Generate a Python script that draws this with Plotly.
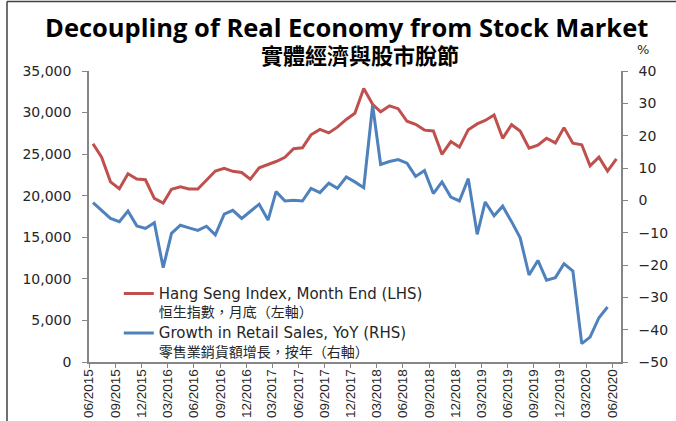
import pandas as pd
import plotly.graph_objects as go

# ---- data ----
months = pd.date_range("2015-06-01", periods=61, freq="MS") + pd.Timedelta(days=14)

hsi_month_end = [26250, 24636, 21670, 20846, 22640, 21996, 21914,
                 19683, 19112, 20777, 21067, 20815, 20794, 21891, 22977, 23297, 22935, 22790, 22001,
                 23361, 23741, 24112, 24615, 25661, 25765, 27324, 27970, 27554, 28246, 29177, 29919,
                 32887, 31000, 30093, 30808, 30469, 28955, 28583, 27889, 27789, 24980, 26507, 25846,
                 27942, 28633, 29051, 29699, 26901, 28543, 27778, 25725, 26092, 26907, 26346, 28190,
                 26313, 26130, 23603, 24644, 22961, 24427]

retail_yoy = [-0.7, -3.1, -5.6, -6.6, -3.3, -7.9, -8.7,
              -6.9, -20.8, -10.2, -7.7, -8.5, -9.3, -8.0, -10.7, -4.3, -3.1, -5.6, -3.3,
              -1.2, -6.1, 2.7, -0.2, 0.0, -0.2, 3.7, 2.4, 5.3, 3.7, 7.2, 5.7,
              3.9, 29.4, 11.1, 12.0, 12.6, 11.5, 7.4, 9.2, 2.1, 5.7, 1.0, -0.2,
              6.7, -10.5, -0.5, -4.8, -1.8, -6.6, -11.6, -23.1, -18.6, -24.7, -23.9, -19.6,
              -21.9, -44.3, -42.3, -36.3, -33.0]

tick_labels = ["06/2015", "09/2015", "12/2015", "03/2016", "06/2016", "09/2016", "12/2016",
               "03/2017", "06/2017", "09/2017", "12/2017", "03/2018", "06/2018", "09/2018",
               "12/2018", "03/2019", "06/2019", "09/2019", "12/2019", "03/2020", "06/2020"]
tick_vals = [pd.Timestamp(int(t[3:]), int(t[:2]), 1) for t in tick_labels]

name_hsi = ("<span style='font-size:15px'>Hang Seng Index, Month End (LHS)</span><br>"
            "<span style='font-size:14px'>恒生指數，月底（左軸）</span>")
name_retail = ("<span style='font-size:15px'>Growth in Retail Sales, YoY (RHS)</span><br>"
               "<span style='font-size:14px'>零售業銷貨額增長，按年（右軸）</span>")

RED = "#C0504D"
BLUE = "#4F81BD"
AXIS = "#868686"
TXT = "#262626"
FONT = "DejaVu Sans, Noto Sans CJK TC, sans-serif"

fig = go.Figure()
fig.add_trace(go.Scatter(x=months, y=hsi_month_end, mode="lines", name=name_hsi,
                         line=dict(color=RED, width=3), yaxis="y"))
fig.add_trace(go.Scatter(x=months[:len(retail_yoy)], y=retail_yoy, mode="lines", name=name_retail,
                         line=dict(color=BLUE, width=3), yaxis="y2"))

fig.update_layout(
    width=676, height=421,
    margin=dict(l=89, r=55, t=71, b=59, autoexpand=False),
    paper_bgcolor="white", plot_bgcolor="white",
    font=dict(family=FONT, color=TXT, size=14),
    showlegend=True,
    legend=dict(x=0.056, y=0.289, xanchor="left", yanchor="top",
                bgcolor="rgba(0,0,0,0)", valign="top",
                font=dict(size=14, color=TXT, family=FONT),
                tracegroupgap=0, itemwidth=30),
    xaxis=dict(type="date", range=["2015-06-01", "2020-07-01"], automargin=False,
               tickvals=tick_vals, ticktext=tick_labels, tickangle=-90,
               ticks="outside", ticklen=4, tickcolor=AXIS, tickwidth=1,
               showline=True, linecolor=AXIS, linewidth=1.5,
               showgrid=False, zeroline=False, ticklabelstandoff=-4,
               tickfont=dict(size=13.5, color=TXT, family="Liberation Sans, sans-serif")),
    yaxis=dict(range=[0, 35000], dtick=5000, tickformat=",", automargin=False,
               ticks="outside", ticklen=5, tickcolor=AXIS,
               showline=True, linecolor=AXIS, linewidth=1.5,
               showgrid=False, zeroline=False, ticklabelstandoff=8,
               tickfont=dict(size=14, color=TXT)),
    yaxis2=dict(range=[-50, 40], dtick=10, overlaying="y", side="right", automargin=False,
                ticks="outside", ticklen=5, tickcolor=AXIS,
                showline=True, linecolor=AXIS, linewidth=1.5,
                showgrid=False, zeroline=False, ticklabelstandoff=8,
                tickfont=dict(size=14, color=TXT)),
)

fig.add_annotation(text="<b>Decoupling of Real Economy from Stock Market</b>",
                   xref="paper", yref="paper", x=(346 - 89) / 532, y=(362 - 27) / 291,
                   xanchor="center", yanchor="middle", showarrow=False,
                   font=dict(family="Open Sans, sans-serif", size=25.5, color="black"))
fig.add_annotation(text="<b>實體經濟與股市脫節</b>",
                   xref="paper", yref="paper", x=(360 - 89) / 532, y=(362 - 54) / 291,
                   xanchor="center", yanchor="middle", showarrow=False,
                   font=dict(family="Noto Sans CJK TC, sans-serif", size=22, color="black"))
fig.add_annotation(text="%", xref="paper", yref="paper",
                   x=(643 - 89) / 532, y=(362 - 49) / 291,
                   xanchor="center", yanchor="middle", showarrow=False,
                   font=dict(size=13, color=TXT))

# chart frame (top and left edges)
fig.add_shape(type="line", xref="paper", yref="paper",
              x0=(7 - 89) / 532, x1=(680 - 89) / 532,
              y0=(362 - 1.5) / 291, y1=(362 - 1.5) / 291,
              line=dict(color="#404040", width=1.5))
fig.add_shape(type="line", xref="paper", yref="paper",
              x0=(7 - 89) / 532, x1=(7 - 89) / 532,
              y0=(362 - 1.5) / 291, y1=(362 - 425) / 291,
              line=dict(color="#404040", width=1.5))

fig.write_html("out.html", config={"displayModeBar": False},
               post_script="document.body.style.margin='0';document.body.style.overflow='hidden';")
